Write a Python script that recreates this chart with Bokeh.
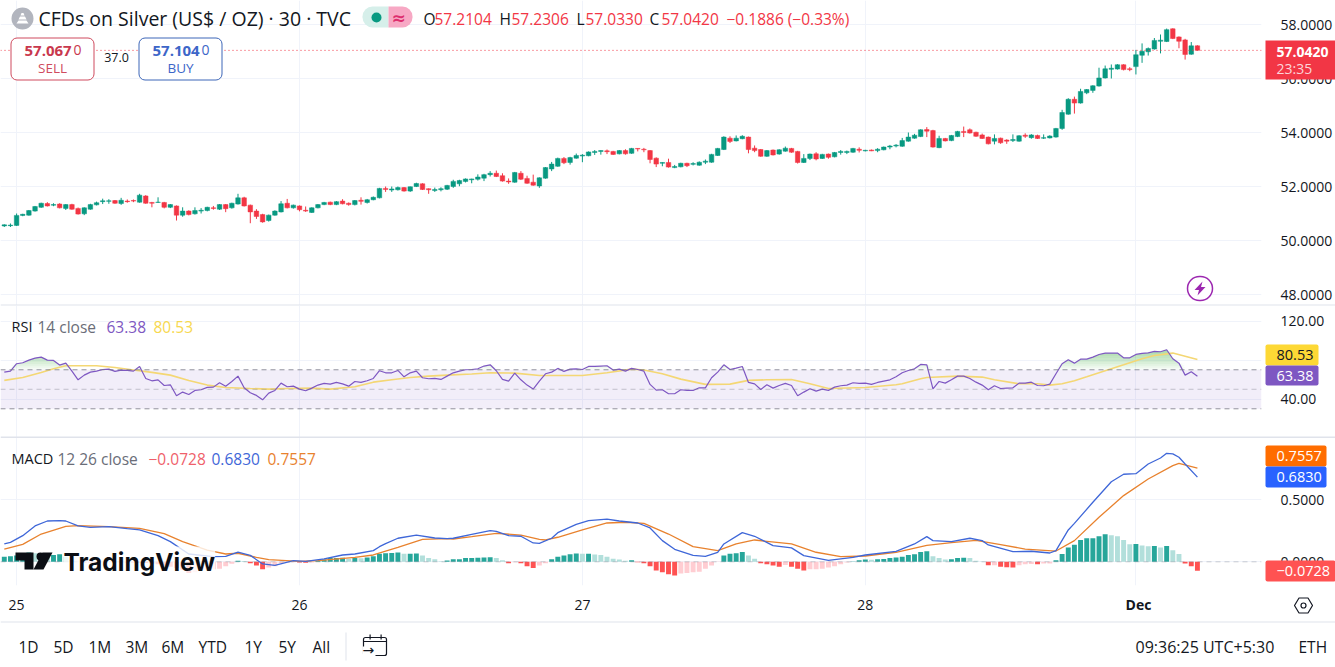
from bokeh.plotting import figure
from bokeh.layouts import column
from bokeh.models import (Range1d, FixedTicker, Grid, Span, Label, BoxAnnotation, PolyAnnotation,
                          NumeralTickFormatter, ColumnDataSource)
from bokeh.embed import file_html
from bokeh.resources import INLINE
import numpy as np

opens = [50.54,50.55,50.56,50.93,50.94,51.09,51.23,51.37,51.31,51.35,51.19,51.33,51.19,50.99,51.16,51.32,51.44,51.45,51.48,51.37,
51.46,51.48,51.42,51.65,51.41,51.41,51.41,51.23,51.28,50.94,51.09,50.99,51.09,51.11,51.21,51.16,51.33,51.21,51.35,51.58,
51.31,51.09,50.96,50.74,50.94,51.06,51.38,51.21,51.28,51.12,51.04,51.21,51.33,51.42,51.33,51.46,51.38,51.33,51.49,51.41,
51.51,51.58,51.93,51.87,51.88,51.96,51.83,52.0,52.10,51.92,51.85,51.88,51.9,
52.0,52.1,52.19,52.25,52.27,52.31,52.44,52.49,52.40,52.2,52.16,52.49,52.30,52.16,52.02,52.31,52.65,52.75,53.04,52.89,
53.05,53.13,53.14,53.26,53.3,53.32,53.30,53.21,53.33,53.23,53.41,53.38,53.33,53.05,52.86,52.89,52.7,52.73,52.86,52.82,
52.79,52.9,52.9,53.15,53.37,53.79,53.69,53.77,53.83,53.42,53.37,53.12,53.35,53.2,53.31,53.41,53.3,52.89,53.04,53.21,
53.04,53.2,53.1,53.26,53.26,53.27,53.38,53.32,53.35,53.33,53.36,53.46,53.5,
53.49,53.68,53.79,53.85,54.11,54.07,53.44,53.78,53.7,53.85,54.04,54.1,54.01,53.91,53.83,53.68,53.79,53.72,53.7,53.68,
53.9,53.81,53.89,53.79,53.8,53.83,54.15,54.68,55.23,55.09,55.47,55.56,55.72,56.02,56.34,56.35,56.51,56.36,56.44,56.86,
56.99,57.09,57.38,57.37,57.84,57.54,57.43,56.90,57.2104]
highs = [50.6,50.63,51.0,50.99,51.13,51.28,51.4,51.42,51.38,51.38,51.35,51.36,51.22,51.23,51.36,51.44,51.55,51.53,51.5,51.58,
51.52,51.52,51.73,51.68,51.43,51.6,51.43,51.35,51.3,51.23,51.12,51.23,51.2,51.25,51.28,51.35,51.35,51.4,51.73,51.62,
51.33,51.16,50.99,50.96,51.12,51.46,51.54,51.33,51.3,51.26,51.23,51.35,51.43,51.44,51.46,51.53,51.41,51.5,51.6,51.54,
51.63,51.95,52.0,52.0,52.0,51.98,52.0,52.14,52.12,51.93,51.96,51.97,52.06,
52.25,52.25,52.3,52.29,52.45,52.47,52.57,52.59,52.49,52.3,52.54,52.57,52.4,52.44,52.34,52.72,52.91,53.07,53.09,53.1,
53.22,53.2,53.3,53.35,53.34,53.37,53.32,53.35,53.38,53.43,53.42,53.43,53.35,53.08,52.9,53.03,52.8,52.88,52.88,52.9,
52.93,53.0,53.21,53.43,53.86,53.86,53.89,53.9,53.85,53.52,53.39,53.35,53.37,53.38,53.48,53.43,53.32,53.2,53.22,53.27,
53.21,53.22,53.28,53.35,53.33,53.43,53.45,53.36,53.37,53.42,53.48,53.54,53.57,
53.8,54.0,53.95,54.12,54.2,54.1,53.88,53.8,53.91,54.06,54.22,54.15,54.03,53.96,53.85,53.93,53.81,53.75,53.93,53.9,
53.97,53.94,53.92,53.93,53.9,54.17,54.84,55.27,55.33,55.62,55.61,55.75,56.4,56.48,56.52,56.53,56.53,56.42,57.06,57.3,
57.15,57.5,57.63,57.85,57.86,57.56,57.47,57.35,57.2306]
lows = [50.5,50.5,50.54,50.9,50.92,51.07,51.21,51.26,51.27,51.19,51.13,51.14,50.96,50.94,51.14,51.3,51.35,51.36,51.36,51.32,
51.4,51.42,51.4,51.36,51.23,51.39,51.19,51.2,50.74,50.88,50.93,50.96,51.0,51.08,51.14,51.13,51.05,51.18,51.33,51.26,
50.64,50.8,50.66,50.7,50.92,51.04,51.19,51.18,51.08,51.06,51.02,51.19,51.31,51.31,51.31,51.34,51.29,51.3,51.33,51.37,
51.49,51.56,51.8,51.8,51.85,51.81,51.8,51.98,51.87,51.73,51.8,51.82,51.87,
51.95,52.01,52.15,52.12,52.22,52.2,52.37,52.35,52.18,52.1,52.14,52.24,52.1,52.03,51.95,52.29,52.57,52.73,52.83,52.81,
53.03,52.9,53.12,53.17,53.18,53.2,53.17,53.19,53.18,53.21,53.3,53.27,52.86,52.72,52.75,52.7,52.68,52.71,52.72,52.78,
52.77,52.83,52.88,53.13,53.35,53.61,53.67,53.75,53.23,53.27,53.1,53.1,53.15,53.18,53.29,53.25,52.85,52.87,52.98,52.97,
53.02,53.03,53.08,53.18,53.2,53.25,53.26,53.3,53.31,53.27,53.34,53.38,53.45,
53.47,53.66,53.77,53.83,53.83,53.44,53.42,53.67,53.68,53.83,53.83,53.96,53.84,53.76,53.56,53.56,53.58,53.58,53.65,53.66,
53.8,53.77,53.76,53.76,53.78,53.81,54.1,54.66,54.7,55.07,55.42,55.47,55.7,56.0,56.0,56.33,56.3,56.27,56.15,56.58,
56.85,57.07,56.93,57.35,57.46,57.12,56.7,56.88,57.0330]
closes = [50.58,50.57,50.93,50.97,51.11,51.26,51.38,51.28,51.33,51.21,51.33,51.16,50.98,51.21,51.33,51.40,51.47,51.47,51.38,51.49,
51.44,51.46,51.68,51.38,51.38,51.42,51.23,51.33,50.94,51.09,50.96,51.11,51.12,51.23,51.19,51.33,51.18,51.38,51.58,51.28,
51.06,50.89,50.69,50.94,51.09,51.36,51.21,51.31,51.14,51.09,51.21,51.33,51.41,51.33,51.44,51.36,51.33,51.48,51.45,51.51,
51.60,51.93,51.89,51.91,51.96,51.83,51.99,52.11,51.89,51.88,51.89,51.92,52.04,
52.19,52.22,52.28,52.28,52.35,52.44,52.49,52.37,52.20,52.17,52.52,52.27,52.12,52.05,52.32,52.70,52.83,53.04,52.88,53.07,
53.15,53.16,53.28,53.3,53.33,53.29,53.19,53.33,53.21,53.41,53.39,53.36,53.0,52.83,52.89,52.72,52.74,52.86,52.77,52.85,
52.9,52.94,53.19,53.41,53.83,53.67,53.79,53.86,53.37,53.33,53.12,53.33,53.17,53.36,53.42,53.27,52.89,53.04,53.2,53.02,
53.19,53.08,53.26,53.3,53.3,53.41,53.34,53.34,53.32,53.38,53.46,53.5,53.53,
53.70,53.83,53.90,54.10,54.05,53.46,53.78,53.69,53.89,54.04,54.0,53.98,53.86,53.78,53.58,53.78,53.62,53.68,53.74,53.88,
53.86,53.91,53.78,53.81,53.87,54.15,54.74,55.23,55.09,55.52,55.59,55.73,56.02,56.36,56.38,56.51,56.33,56.33,56.88,57.01,
57.11,57.41,57.42,57.81,57.48,57.38,56.89,57.21,57.0420]
rsi_values = [67.6,68.6,76.2,77.2,79.9,82.0,83.0,79.9,79.6,74.8,76.8,68.6,59.7,64.5,67.6,68.6,70.3,70.7,68.3,69.7,
69.3,68.6,73.4,61.1,58.7,59.7,53.9,54.6,43.3,47.1,44.7,48.8,49.5,51.9,52.2,56.7,53.2,58.0,63.5,51.5,
46.4,43.7,39.2,46.1,48.8,56.3,52.6,53.2,50.2,48.5,51.2,54.3,56.0,55.3,57.0,55.6,53.2,58.0,57.0,58.7,
61.1,69.0,66.9,66.9,69.3,62.8,66.9,68.6,61.8,60.8,61.1,60.1,63.5,
66.9,68.6,70,70.3,71,73.8,75.1,69,60.1,58.4,66.6,59.7,54.3,50.2,58.4,65.9,67.6,71.4,68.3,70.7,
71,70.3,73.4,73.4,73.8,74.1,69.7,70.7,68.6,71.4,70.3,68.6,55,49.1,49.5,45.4,45.4,49.5,48.8,48.8,
51.5,51.5,61.8,67.6,75.1,70.3,71.7,73.4,57,55.6,49.8,54.6,51.2,53.9,56,53.9,43.3,47.1,50.5,48.1,
50.2,48.8,52.2,53.6,54.3,56.7,56,56.3,55,57,58.4,59.7,62.8,
66.9,69.3,71,75.5,75.1,50.5,58,56.3,59.7,63.5,63.5,61.1,57.3,54.3,49.5,53.6,50.8,51.2,51.5,56.3,
56.3,57.3,53.9,53.6,55.3,65.9,76.2,80.3,76.8,80.9,80.9,83,85.7,87.1,87.1,87.1,82.3,82.3,85.7,86.8,
87.4,88.8,88.5,90.5,81.3,76.8,64.5,68,63.38]
rsi_ma_bars = [0,3,6,8,10,15,18,21,24,27,30,33,36,40,43,46,50,53,57,60,63,66,69,72,
76,79,83,87,94,98,102,104,107,110,114,118,121,124,128,131,134,140,145,
146,149,150,155,159,161,165,168,170,172,174,176,179,182,185,187,190,194]
rsi_ma_values = [59.1,62.1,67.3,71,74.1,74.1,72.4,69.7,67.3,64.5,59.1,54.3,51.9,50.8,50.2,50.8,51.2,50.2,52.6,57.3,59.7,62.1,63.5,64.5,
65.6,66.9,66.6,64.2,64.2,66.9,70.7,69.7,65.9,60.4,55,55.3,59.1,59.7,60.1,55.6,50.8,51.9,54.6,
55.6,60.8,62.1,63.5,62.5,59.7,55.6,55.6,54.3,55.6,58.7,62.8,69,75.1,81.3,84.7,87.1,80.53]
macd_bars = [0,1,3,5,7,9,10,12,14,17,20,22,25,27,30,34,36,38,40,42,44,47,49,52,55,57,60,61,62,64,67,70,72,
73,76,79,80,82,84,86,87,89,90,93,95,98,100,103,105,107,109,112,114,116,117,120,122,125,128,130,134,138,140,145,
148,150,151,154,157,159,160,164,167,170,171,173,174,177,180,182,184,186,188,189,190,191,192,194]
macd_values = [.144,.157,.211,.289,.329,.332,.329,.289,.278,.284,.267,.257,.211,.163,.063,.042,.044,.079,.052,-.017,-.028,.009,.004,.023,.055,.063,.09,.122,.147,.19,.216,.192,.187,
.19,.222,.251,.246,.211,.206,.152,.149,.19,.235,.302,.332,.345,.329,.313,.273,.171,.101,.052,.044,.077,.144,.235,.206,.13,.112,.05,.012,.036,.055,.085,
.144,.203,.171,.163,.19,.171,.136,.082,.085,.071,.09,.257,.31,.48,.646,.706,.711,.789,.837,.875,.87,.843,.789,.683]
signal_bars = [0,3,6,10,12,17,22,26,29,33,36,38,41,43,48,51,57,60,64,68,72,
73,76,80,84,87,88,90,94,98,101,104,108,112,116,119,122,128,132,136,140,145,
150,154,158,162,166,171,174,178,182,186,190,191,194]
signal_values = [.103,.141,.224,.286,.292,.284,.27,.227,.163,.095,.063,.069,.036,.017,.004,.009,.036,.055,.117,.181,.187,
.184,.203,.23,.216,.181,.176,.198,.257,.313,.319,.31,.224,.122,.09,.144,.176,.144,.077,.042,.047,.077,
.133,.155,.173,.138,.103,.087,.171,.359,.534,.668,.776,.794,.7557]
hist_values = [.04,.045,.05,.07,.075,.07,.06,.05,.055,.06,.04,.02,.001,-.005,-.006,-.004,-.003,-.001,-.003,-.004,
-.005,-.006,-.008,-.01,-.015,-.02,-.03,-.04,-.05,-.065,-.09,-.085,-.075,-.065,-.06,-.055,-.035,-.015,.008,.006,
-.012,-.03,-.06,-.045,-.035,-.01,-.005,-.003,-.006,-.008,-.006,.008,.018,.03,.031,.032,.025,.03,.028,.035,
.045,.065,.07,.071,.075,.065,.066,.067,.05,.03,.02,.005,.01,
.02,.021,.03,.031,.032,.035,.036,.03,.012,-.012,-.003,-.012,-.035,-.05,-.03,-.012,.02,.04,.05,.06,
.067,.065,.066,.058,.055,.04,.025,.018,.008,.012,-.003,-.012,-.035,-.07,-.085,-.1,-.11,-.095,-.09,-.085,
-.08,-.055,-.03,-.002,.05,.065,.07,.08,.05,.025,-.012,-.02,-.03,-.04,-.025,-.04,-.055,-.07,-.06,-.06,
-.055,-.045,-.035,-.02,-.005,.002,.012,.018,.017,.02,.022,.03,.035,
.04,.055,.06,.08,.085,.045,.03,.018,.02,.03,.032,.03,.008,.002,-.027,-.027,-.04,-.043,-.045,-.027,
-.02,-.018,-.02,-.014,-.013,.012,.062,.115,.137,.175,.19,.191,.207,.223,.215,.207,.175,.142,.143,.132,
.126,.127,.116,.127,.094,.062,-.013,-.035,-.0728]
day_ticks = [2, 48, 94, 140, 184]
day_labels = ["25", "26", "27", "28", "Dec"]
price_ticks = [48, 50, 52, 54, 56, 58]
rsi_ticks = [40, 80, 120]
macd_ticks = [0, 0.5]
ranges_labels = ["1D", "5D", "1M", "3M", "6M", "YTD", "1Y", "5Y", "All"]

bars = np.arange(len(closes))
FONT = "Open Sans"
GREEN, RED = "#089981", "#f23645"
GRID = "#f0f3fa"
SEP = "#e0e3eb"
INK = "#131722"
W, H = 1335, 667
x_range = Range1d(-0.617, 204.42)


def make(height, y0, y1, ticks, fmt, border_bottom=0, xaxis=None):
    p = figure(width=W, height=height, x_range=x_range, y_range=Range1d(y0, y1), output_backend="svg",
               toolbar_location=None, x_axis_location=xaxis, y_axis_location="right",
               min_border_left=0, min_border_right=72, min_border_top=0, min_border_bottom=border_bottom)
    p.outline_line_color = None
    p.background_fill_color = "white"
    p.grid.visible = False
    ax = p.yaxis[0]
    ax.ticker = FixedTicker(ticks=ticks)
    ax.formatter = NumeralTickFormatter(format=fmt)
    ax.axis_line_color = None
    ax.major_tick_line_color = None
    ax.minor_tick_line_color = None
    ax.major_label_standoff = 13
    ax.major_label_text_font = FONT
    ax.major_label_text_font_size = "14px"
    ax.major_label_text_color = INK
    p.add_layout(Grid(dimension=0, ticker=FixedTicker(ticks=day_ticks), grid_line_color=GRID, level="underlay"))
    p.add_layout(Grid(dimension=1, ticker=FixedTicker(ticks=ticks), grid_line_color=GRID, level="underlay"))
    return p


# ------------------------------------------------------------------ price pane
p1 = make(305, 47.593, 58.889, price_ticks, "0.0000")
up = [c >= o for o, c in zip(opens, closes)]
src = ColumnDataSource(dict(x=bars, o=opens, h=highs, l=lows, c=closes,
                            top=np.maximum(opens, closes), bot=np.minimum(opens, closes),
                            col=[GREEN if u else RED for u in up]))
p1.add_layout(Span(location=closes[-1], dimension="width", line_color=RED, line_dash="1 3", line_width=1))
p1.segment("x", "h", "x", "l", source=src, line_color="col", line_width=1)
p1.vbar("x", top="top", bottom="bot", width=0.74, source=src, fill_color="col", line_color="col", line_width=0.5)

# ------------------------------------------------------------------ RSI pane
p2 = make(132, 0.56, 135.9, rsi_ticks, "0.00")
p2.add_layout(BoxAnnotation(bottom=30, top=70, fill_color="#7e57c2", fill_alpha=0.1, line_color=None, level="underlay"))
for lv, al in [(70, .8), (50, .4), (30, .8)]:
    p2.add_layout(Span(location=lv, dimension="width", line_color="#787b86", line_alpha=al, line_dash="5 4", line_width=1))
rsi = np.array(rsi_values)
for lv in range(70, 92, 2):
    p2.varea(bars, np.full(len(bars), float(lv)), np.maximum(rsi, lv), fill_color="#4caf50", fill_alpha=0.055)
p2.line(rsi_ma_bars, rsi_ma_values, line_color="#f4d774", line_width=1.6)
p2.line(bars, rsi_values, line_color="#7e57c2", line_width=1.2)

# ------------------------------------------------------------------ MACD pane
p3 = make(230, -0.191, 1.0024, macd_ticks, "0.0000", border_bottom=82, xaxis="below")
tx = p3.xaxis[0]
tx.ticker = FixedTicker(ticks=day_ticks)
tx.major_label_overrides = {t: ("" if s == "Dec" else s) for t, s in zip(day_ticks, day_labels)}
tx.axis_line_color = None
tx.major_tick_line_color = None
tx.minor_tick_line_color = None
tx.major_label_standoff = 8
tx.major_label_text_font = FONT
tx.major_label_text_font_size = "14px"
tx.major_label_text_color = INK
hist_cols = []
for i, h in enumerate(hist_values):
    prev = hist_values[i - 1] if i else h
    if h >= 0:
        hist_cols.append("#26a69a" if h >= prev else "#b2dfdb")
    else:
        hist_cols.append("#ffcdd2" if h >= prev else "#ff5252")
p3.add_layout(Span(location=0, dimension="width", line_color="#787b86", line_alpha=.35, line_dash="5 4", line_width=1))
p3.vbar(bars, top=hist_values, bottom=0, width=0.8, fill_color=hist_cols, line_color=None)
p3.line(signal_bars, signal_values, line_color="#e8822e", line_width=1.3)
p3.line(macd_bars, macd_values, line_color="#3f67d8", line_width=1.3)

# ------------------------------------------------------------------ overlay with the page chrome
ov = figure(width=W, height=H, x_range=Range1d(0, W), y_range=Range1d(H, 0), output_backend="svg",
            toolbar_location=None, x_axis_location=None, y_axis_location=None, frame_align=False,
            min_border=0, styles={"position": "absolute", "left": "0px", "top": "0px"})
ov.outline_line_color = None
ov.background_fill_alpha = 0
ov.border_fill_alpha = 0
ov.grid.visible = False


def text(x, y, s, color=INK, size=15.5, weight="normal", align="left", font=FONT, **kw):
    ov.add_layout(Label(x=x, y=y, text=s, text_color=color, text_font=font, text_font_size=f"{size}px",
                        text_font_style=weight, text_align=align, text_baseline="middle", **kw))


def box(x0, y0, x1, y1, fill, line=None, radius=0, width=1):
    ov.add_layout(BoxAnnotation(left=x0, right=x1, top=y0, bottom=y1, fill_color=fill, fill_alpha=1, line_color=line,
                                line_alpha=1, line_width=width, border_radius=radius, editable=False))


def poly(pts, fill, line=None, width=1):
    ov.add_layout(PolyAnnotation(xs=[a for a, _ in pts], ys=[b for _, b in pts], fill_color=fill, fill_alpha=1,
                                 line_color=line, line_alpha=1, line_width=width))


box(0, 304, 1335, 305, SEP, None)
box(0, 436, 1335, 437.5, SEP, None)
box(0, 621, 1335, 622, SEP, None)
# header
box(11, 7, 33, 29, "#b2b5be", None, radius=11)
poly([(16, 23), (28, 23), (26, 20), (18, 20)], "white")
poly([(18, 19), (26, 19), (24.5, 16), (19.5, 16)], "white")
poly([(20, 15), (24, 15), (23, 12.5), (21, 12.5)], "white")
text(38, 18, "CFDs on Silver (US$ / OZ) \u00b7 30 \u00b7 TVC", size=19.5)
box(362, 6, 388, 27, "#d6efea", None, radius=dict(top_left=10, bottom_left=10, top_right=0, bottom_right=0))
box(388, 6, 412, 27, "#f7a8c4", None, radius=dict(top_left=0, bottom_left=0, top_right=10, bottom_right=10))
box(371, 12, 381, 22, GREEN, None, radius=5)
text(398, 17, "\u2248", "#dd2e6e", 17, "bold", "center", font="DejaVu Sans")
for x, s, col in [(423, "O", INK), (434, "57.2104", RED), (499, "H", INK), (511, "57.2306", RED),
                  (576, "L", INK), (585, "57.0330", RED), (649, "C", INK), (661, "57.0420", RED),
                  (726, "\u22120.1886 (\u22120.33%)", RED)]:
    text(x, 18, s, col)
# buttons
box(10.5, 37.5, 93.5, 79.5, "white", "#cf4b5e", radius=6)
box(138.5, 37.5, 221.5, 79.5, "white", "#3d66b8", radius=6)
text(24, 50, "57.067", "#c9384d", 15, "bold")
text(73, 49, "0", "#c9384d", 14)
text(52, 67, "SELL", "#cf4b5e", 13.5, align="center")
text(116, 57, "37.0", INK, 12.5, align="center")
text(152, 50, "57.104", "#3d66c8", 15, "bold")
text(201, 49, "0", "#3d66c8", 14)
text(180, 67, "BUY", "#3d66c8", 13.5, align="center")
# last price tag
box(1265, 40, 1335, 79, RED, None)
text(1276, 51, "57.0420", "white", 14, "bold")
text(1276, 68, "23:35", "#fcd5d9", 14)
# bolt
box(1187, 276, 1212, 300, "white", "#9c27b0", radius=12, width=1.5)
poly([(1202, 281), (1194, 289.5), (1198.5, 289.5), (1197, 295), (1205, 286.5), (1200.5, 286.5)], "#9c27b0")
# RSI legend and tags
text(11, 326, "RSI", size=14.5)
text(37, 326, "14 close", "#6a6d78")
text(106, 326, "63.38", "#7e57c2")
text(153, 326, "80.53", "#f7d84f")
box(1265, 344, 1318, 365, "#fdd835", None, radius=2)
box(1265, 365, 1318, 385, "#7e57c2", None, radius=2)
text(1276, 354.5, "80.53", INK, 14.5)
text(1276, 375, "63.38", "white", 14.5)
# MACD legend and tags
text(11, 458, "MACD", size=14.5)
text(57, 458, "12 26 close", "#6a6d78")
text(148, 458, "\u22120.0728", "#ef5f6b")
text(211, 458, "0.6830", "#3f67d8")
text(267, 458, "0.7557", "#e8822e")
box(1265, 445, 1326, 466, "#ff6d00", None, radius=2)
box(1265, 466, 1326, 487, "#2962ff", None, radius=2)
box(1265, 560, 1335, 581, "#ff5252", None, radius=2)
text(1276, 455.5, "0.7557", "white", 14.5)
text(1276, 476.5, "0.6830", "white", 14.5)
text(1276, 570.5, "\u22120.0728", "white", 14.5)
# logo
text(63, 561, "TradingView", "#0b0e14", 24.5, "bold", font="Inter", background_fill_color="white", background_fill_alpha=0.8)
poly([(15, 552), (33, 552), (33, 569), (24, 569), (24, 560), (15, 560)], "#0b0e14")
box(36, 552, 44, 560, "#0b0e14", None, radius=4)
poly([(42, 552), (52, 552), (43, 569), (33, 569)], "#0b0e14")
# time axis extras
text(1138, 604, "Dec", INK, 14, "bold", "center")
poly([(1303 + dx, 605 + dy) for dx, dy in [(-9, 0), (-4.5, -7.5), (4.5, -7.5), (9, 0), (4.5, 7.5), (-4.5, 7.5)]],
     "white", "#131722", 1.2)
box(1300.5, 602.5, 1305.5, 607.5, "white", "#131722", radius=3, width=1.2)
# footer
for x, s in zip([18, 53, 88, 125, 161, 198, 244, 278, 312], ranges_labels):
    text(x, 646, s, INK, 15.5)
box(345, 632, 346, 660, SEP, None)
box(363, 637, 386, 655, "white", "#131722", radius=2, width=1.2)
box(362, 646, 375, 657, "white", None)
box(363.5, 640.5, 385.5, 641.5, "#131722", None)
box(369, 634, 370.2, 639, "#131722", None)
box(380, 634, 381.2, 639, "#131722", None)
text(362, 649.5, "\u2192", INK, 14, font="DejaVu Sans")
text(1135, 646, "09:36:25 UTC+5:30", INK, 16)
text(1298, 646, "ETH", INK, 15.5)

page = column(p1, p2, p3, ov, spacing=0)
open("out.html", "w").write(file_html(page, INLINE))
